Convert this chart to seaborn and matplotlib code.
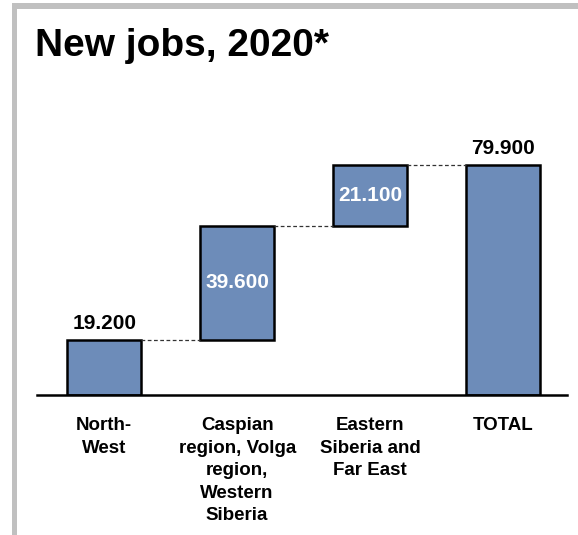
import matplotlib
matplotlib.use("Agg")
import matplotlib.pyplot as plt
import seaborn as sns
import numpy as np
import pandas as pd
from matplotlib.patches import Rectangle

# Data
categories = ["North-\nWest", "Caspian\nregion, Volga\nregion,\nWestern\nSiberia",
              "Eastern\nSiberia and\nFar East", "TOTAL"]
increments = [19.2, 39.6, 21.1]
total = 79.9
value_labels = ["19.200", "39.600", "21.100", "79.900"]

heights = increments + [total]
bottoms = list(np.concatenate([[0], np.cumsum(increments)[:-1]])) + [0]
tops = [b + h for b, h in zip(bottoms, heights)]

df = pd.DataFrame({"region": categories, "jobs": heights, "base": bottoms})

sns.set_theme(style="white")
plt.rcParams["font.family"] = ["Liberation Sans", "DejaVu Sans"]

W, H = 578, 535
fig = plt.figure(figsize=(W / 100, H / 100), dpi=100)
fig.patch.set_facecolor("white")

# Gray frame along the left and top edges
frame_col = "#c0c0c0"
fig.patches.append(Rectangle((12 / W, 0), 5 / W, 1 - 3 / H, transform=fig.transFigure,
                             facecolor=frame_col, edgecolor="none"))
fig.patches.append(Rectangle((12 / W, 1 - 9 / H), 1 - 12 / W, 6 / H, transform=fig.transFigure,
                             facecolor=frame_col, edgecolor="none"))

ymax = 90
ax = fig.add_axes([37 / W, 1 - 395 / H, (567 - 37) / W, (ymax * 2.879) / H])

bar_col = "#6d8cb9"
sns.barplot(data=df, x="region", y="jobs", bottom=df["base"].values, ax=ax,
            color=bar_col, saturation=1, width=0.56, edgecolor="black", linewidth=1.8)
for p in ax.patches:
    p.set_facecolor(bar_col)

ax.set_xlim(-0.505, 3.48)
ax.set_ylim(0, ymax)
ax.set_xlabel("")
ax.set_ylabel("")
ax.set_yticks([])
for s in ["top", "right", "left"]:
    ax.spines[s].set_visible(False)
ax.spines["bottom"].set_color("black")
ax.spines["bottom"].set_linewidth(1.8)
ax.tick_params(axis="x", length=0, pad=16)
ax.set_xticks(range(len(categories)))
ax.set_xticklabels(categories, fontsize=13.5, fontweight="bold", linespacing=1.42,
                   va="top", color="black")

# Dashed connectors between consecutive bars
hw = 0.28
for i in range(len(categories) - 1):
    level = tops[i]
    ax.plot([i + hw, i + 1 - hw], [level, level], color="#333333", lw=0.9,
            ls=(0, (3, 2)), zorder=1)

# Value labels
for i, (b, h, lab) in enumerate(zip(bottoms, heights, value_labels)):
    if i == 0 or i == len(categories) - 1:
        ax.annotate(lab, (i, b + h), xytext=(0, 5), textcoords="offset points",
                    ha="center", va="bottom", fontsize=15, fontweight="bold",
                    color="black", annotation_clip=False)
    else:
        ax.text(i, b + h / 2, lab, ha="center", va="center", fontsize=15,
                fontweight="bold", color="white")

fig.text(35 / W, 1 - 46 / H, "New jobs, 2020*", fontsize=28, fontweight="bold",
         ha="left", va="center", color="black")

fig.savefig("out.png", dpi=100, facecolor="white")
